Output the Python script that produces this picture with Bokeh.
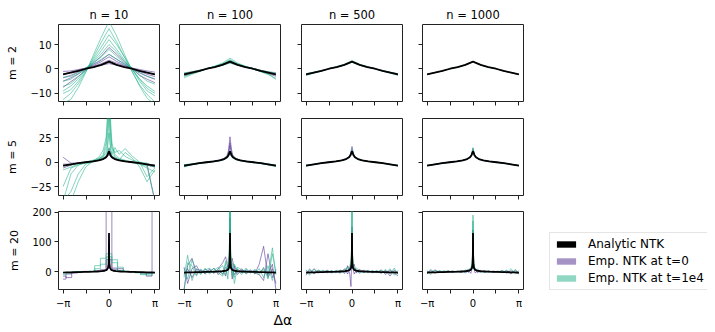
import numpy as np
from bokeh.plotting import figure
from bokeh.layouts import row, column
from bokeh.models import Range1d, FixedTicker, Legend, LegendItem, Title, CustomLabelingPolicy
from bokeh.embed import file_html
from bokeh.resources import INLINE

# ---------------- data ----------------
N_VALUES = [10, 100, 500, 1000]
M_VALUES = [2, 5, 20]
X_TICK_LABELS = ["−π", "", "0", "", "π"]
Y_TICKS_M2 = [-10, 0, 10]
Y_TICK_LABELS_M2 = ["−10", "0", "10"]
Y_TICKS_M5 = [-25, 0, 25]
Y_TICK_LABELS_M5 = ["−25", "0", "25"]
Y_TICKS_M20 = [0, 100, 200]
Y_TICK_LABELS_M20 = ["0", "100", "200"]
LEGEND_LABELS = ["Analytic NTK", "Emp. NTK at t=0", "Emp. NTK at t=1e4"]
X_LABEL = "Δα"

# angle grids (radians)
X_M2 = [-3.1416, -2.618, -2.094, -1.571, -1.047, -0.524, 0.0, 0.524, 1.047, 1.571, 2.094, 2.618, 3.1416]
X_M5 = [-3.1416, -2.6, -2.1, -1.6, -1.1, -0.7, -0.4, -0.2, -0.1, 0.0, 0.1, 0.2, 0.4, 0.7, 1.1, 1.6, 2.1, 2.6, 3.1416]
X_M20 = [-3.1416, -2.9, -2.6, -2.3, -2.0, -1.7, -1.4, -1.1, -0.8, -0.5, -0.3, -0.15, -0.07, -0.03, -0.01, 0.0,
         0.01, 0.03, 0.07, 0.15, 0.3, 0.5, 0.8, 1.1, 1.4, 1.7, 2.0, 2.3, 2.6, 2.9, 3.1416]
X_M20_STEP = [-3.1416, -2.749, -2.356, -1.963, -1.571, -1.178, -0.785, -0.393, 0.0, 0.393, 0.785, 1.178,
              1.571, 1.963, 2.356, 2.749, 3.1416]

# analytic NTK
ANALYTIC_M2 = [-2.2, -1.5, -0.8, 0.1, 0.8, 1.7, 3.0, 1.7, 0.8, 0.1, -0.8, -1.5, -2.2]
ANALYTIC_M5 = [-3.5, -2.2, -1.0, -0.1, 0.8, 1.8, 3.2, 5.0, 7.2, 11.0, 7.2, 5.0, 3.2, 1.8, 0.8, -0.1, -1.0, -2.2, -3.5]
ANALYTIC_M20 = [-3, -2.6, -2.2, -1.8, -1.4, -1, -0.6, -0.2, 0.4, 1.5, 3, 6, 12, 25, 55, 130,
                55, 25, 12, 6, 3, 1.5, 0.4, -0.2, -0.6, -1, -1.4, -1.8, -2.2, -2.6, -3]

# ---- m = 2 ----
EMP0_M2_N10 = [
    [-2.0, -1.4, -0.5, 0.3, 1.2, 2.2, 3.6, 2.4, 1.3, 0.3, -0.7, -1.5, -2.3],
    [-5.0, -3.6, -2.0, 0.0, 2.0, 3.6, 6.0, 4.0, 2.1, 0.0, -1.6, -3.0, -4.2],
    [-7.5, -5.2, -3.0, -0.4, 2.6, 5.2, 8.8, 6.0, 3.0, 0.1, -2.6, -4.2, -5.6],
    [-1.0, -0.8, -0.2, 0.4, 1.0, 1.6, 2.2, 1.6, 1.0, 0.4, -0.2, -0.8, -1.3],
    [-3.6, -2.6, -1.2, 0.2, 1.5, 3.0, 5.0, 3.1, 1.6, 0.2, -1.0, -2.2, -3.1],
]
EMP1_M2_N10 = [
    [-14.0, -12.5, -7.5, -1.2, 6.0, 13.0, 19.5, 13.5, 6.2, -0.8, -7.0, -12.0, -14.5],
    [-10.0, -8.5, -5.0, -0.5, 4.2, 9.0, 14.0, 10.0, 5.0, 0.2, -5.0, -9.0, -11.0],
    [-7.0, -6.0, -3.2, 0.0, 3.0, 6.2, 10.0, 7.0, 3.2, 0.0, -4.0, -7.0, -9.2],
    [-5.0, -4.2, -2.0, 0.5, 2.6, 5.0, 8.0, 5.2, 2.5, 0.3, -2.5, -5.0, -6.2],
    [-3.4, -3.0, -1.5, 0.5, 2.0, 4.0, 6.0, 4.0, 2.0, 0.5, -1.5, -3.0, -4.0],
    [-12.5, -10.0, -6.0, -1.0, 5.0, 11.0, 16.5, 11.0, 5.0, -1.0, -6.5, -10.5, -13.5],
    [-9.0, -7.0, -4.0, 0.0, 3.5, 7.5, 12.0, 8.0, 3.8, -0.2, -4.2, -8.0, -10.0],
]
EMP0_M2_N100 = [
    [-2.8, -1.8, -0.9, 0.1, 0.9, 1.8, 2.8, 1.8, 0.9, 0.1, -0.9, -1.9, -3.0],
    [-1.8, -1.2, -0.6, 0.2, 0.8, 1.6, 2.6, 1.6, 0.8, 0.2, -0.6, -1.2, -1.7],
    [-2.4, -1.6, -0.8, 0.1, 0.9, 1.8, 3.3, 1.8, 0.9, 0.0, -0.8, -1.6, -2.5],
]
EMP1_M2_N100 = [
    [-3.6, -2.2, -1.1, 0.1, 1.2, 2.4, 4.4, 2.4, 1.2, 0.1, -1.1, -2.3, -3.8],
    [-1.6, -1.1, -0.5, 0.2, 0.8, 1.5, 2.4, 1.5, 0.8, 0.2, -0.5, -1.1, -1.5],
    [-3.0, -1.9, -0.9, 0.1, 1.0, 2.1, 3.8, 2.1, 1.0, 0.0, -1.0, -2.0, -4.3],
    [-2.6, -1.7, -0.8, 0.1, 0.9, 1.9, 3.4, 2.0, 0.9, 0.1, -0.9, -1.7, -2.4],
]
EMP0_M2_N500 = [
    [-2.4, -1.6, -0.8, 0.1, 0.9, 1.8, 3.1, 1.8, 0.9, 0.1, -0.8, -1.6, -2.4],
    [-2.0, -1.4, -0.7, 0.1, 0.8, 1.6, 2.9, 1.6, 0.8, 0.1, -0.7, -1.4, -2.0],
]
EMP1_M2_N500 = [
    [-2.7, -1.7, -0.9, 0.1, 1.0, 1.9, 3.4, 1.9, 1.0, 0.1, -0.9, -1.7, -2.6],
    [-1.9, -1.3, -0.7, 0.1, 0.8, 1.6, 2.7, 1.6, 0.8, 0.1, -0.7, -1.3, -1.9],
]
EMP0_M2_N1000 = [
    [-2.3, -1.5, -0.8, 0.1, 0.8, 1.7, 3.05, 1.7, 0.8, 0.1, -0.8, -1.5, -2.3],
]
EMP1_M2_N1000 = [
    [-2.1, -1.5, -0.8, 0.1, 0.8, 1.7, 2.95, 1.7, 0.8, 0.1, -0.8, -1.5, -2.1],
]

# ---- m = 5 ----
EMP0_M5_N10 = [
    [-2, -2, -1, 0, 1, 2, 3, 5, 7, 10, 7, 5, 3, 2, 1, 0, -1, -2, -40],
    [5, -1, -1, 0, 1, 2, 4, 6, 9, 14, 9, 6, 4, 2, 1, 0, -1, -3, -5],
    [-6, -3, -1, 0, 1, 2, 3, 4, 6, 8, 6, 4, 3, 2, 1, 0, -1, -2, -3],
]
EMP1_M5_N10 = [
    [-40, -30, -12, -2, 0, 2, 6, 15, 30, 60, 28, 14, 6, 3, 1, 0, -2, -6, -10],
    [-40, -40, -20, -5, 1, 3, 8, 20, 40, 80, 35, 15, 10, 12, 6, 2, 0, -1, -5],
    [-8, -5, -2, 0, 2, 4, 6, 10, 18, 30, 16, 8, 15, 8, 14, 6, 0, -15, -6],
    [-25, -6, -3, -1, 1, 3, 5, 8, 12, 50, 12, 8, 5, 2, 10, 4, -5, -20, -8],
    [-4, -3, -1, 0, 1, 2, 4, 6, 9, 15, 9, 6, 4, 2, 1, 0, -1, -3, -5],
    [-40, -12, -3, 0, 1, 5, 12, 25, 50, 70, 45, 20, 8, 4, 2, 0, -2, -4, -40],
]
EMP0_M5_N100 = [
    [-4.5, -2.5, -1.2, 0, 1, 2.2, 4, 7, 12, 26, 13, 7, 4, 2, 1, 0, -1.2, -2.5, -4],
    [-3, -2, -0.8, -0.2, 0.6, 1.6, 3, 5.5, 9, 17, 9, 5.5, 3.2, 1.6, 0.6, -0.2, -0.8, -2, -3.2],
    [-4, -2.4, -1, 0.2, 1, 2, 3.5, 6, 10, 20, 10, 6, 3.5, 2, 1, 0, -1, -2.4, -3.8],
]
EMP1_M5_N100 = [
    [-5, -2.6, -1.5, -0.5, 0.5, 1.5, 2.5, 4, 6, 9, 6, 4, 2.5, 1.5, 0.4, -0.5, -1.4, -2.8, -4.5],
    [-2.5, -1.8, -0.6, 0.2, 1, 2, 3.5, 5.5, 8, 12, 8, 5.5, 3.5, 2, 1, 0.2, -0.6, -1.8, -2.8],
    [-4, -2, -1.2, -0.3, 0.6, 1.7, 3, 4.8, 7, 10.5, 7, 4.8, 3, 1.7, 0.7, -0.3, -1.2, -2.2, -4.2],
]
EMP0_M5_N500 = [
    [-3.8, -2.3, -1.1, -0.1, 0.8, 1.9, 3.5, 5.8, 9, 16, 9, 5.8, 3.5, 1.9, 0.8, -0.1, -1.1, -2.3, -3.7],
    [-3.2, -2.1, -0.9, 0, 0.9, 1.8, 3.2, 5.2, 7.8, 12.5, 7.8, 5.2, 3.2, 1.8, 0.9, 0, -0.9, -2.1, -3.3],
]
EMP1_M5_N500 = [
    [-4.2, -2.4, -1.2, -0.2, 0.7, 1.7, 3, 4.8, 7, 10.5, 7, 4.8, 3, 1.7, 0.7, -0.2, -1.2, -2.4, -4.0],
    [-3.0, -2.0, -0.8, 0.1, 0.9, 1.9, 3.4, 5.4, 8.2, 13.5, 8.2, 5.4, 3.4, 1.9, 0.9, 0.1, -0.8, -2.0, -3.2],
]
EMP0_M5_N1000 = [
    [-3.6, -2.2, -1.0, -0.1, 0.8, 1.8, 3.3, 5.3, 8, 14, 8, 5.3, 3.3, 1.8, 0.8, -0.1, -1.0, -2.2, -3.6],
    [-3.3, -2.1, -0.9, 0, 0.9, 1.8, 3.2, 5.1, 7.6, 12, 7.6, 5.1, 3.2, 1.8, 0.9, 0, -0.9, -2.1, -3.4],
]
EMP1_M5_N1000 = [
    [-3.9, -2.3, -1.1, -0.1, 0.8, 1.8, 3.2, 5, 7.5, 12.5, 7.5, 5, 3.2, 1.8, 0.8, -0.1, -1.1, -2.3, -3.8],
    [-3.1, -2.1, -0.9, -0.1, 0.8, 1.8, 3.3, 5.3, 8.1, 15, 8.1, 5.3, 3.3, 1.8, 0.8, -0.1, -0.9, -2.1, -3.2],
]

# ---- m = 20 ----
EMP0_M20_N10 = [  # on X_M20_STEP, drawn as steps
    [-25, -8, -5, 0, 0, 0, 3, 5, 250, 8, 10, 0, -2, -3, -5, -6, 250],
    [-15, -20, -2, 0, 1, 0, 2, 6, 40, 12, 3, 1, 0, -1, -4, -15, -3],
]
EMP1_M20_N10 = [
    [-10, -5, -2, 0, 0, 1, 20, 45, 60, 40, 4, 2, 0, -4, -10, -8, -2],
    [-3, -2, -1, 0, 0, 2, 10, 25, 50, 30, 15, 1, 0, -2, -8, -12, -5],
]
EMP0_M20_N100 = [
    [-60, 20, 45, -10, 6, -4, 8, -6, 10, 30, 50, 15, 25, 60, 100, 180, 100, 50, 20, 45, 10, -10, 5, -3, 6, -8, 25, 85, -20, 10, -40],
    [15, -40, 10, 20, -5, 8, -3, 12, -10, 5, -15, 20, 30, 50, 90, 140, 80, 40, 15, -25, 20, -5, 10, -6, 3, -5, -10, -30, 60, -20, 5],
    [-10, 10, -20, 8, 4, -8, 6, -4, 4, -8, 15, 8, 15, 35, 70, 120, 60, 30, 10, 12, -10, 8, -3, 5, -2, 4, -3, 10, -10, 25, -60],
]
EMP1_M20_N100 = [
    [-20, 55, -30, 10, -8, 5, 12, -5, 8, 20, -10, 15, 40, 90, 150, 260, 140, 80, 35, -15, 25, 5, -10, 8, -5, 3, -10, 15, -25, 60, -5],
    [-60, 30, 20, -15, 8, -6, 3, 10, -4, -15, 25, 30, 60, 110, 180, 230, 170, 100, 50, 10, -20, 15, 6, -8, 4, -6, 10, -20, 20, -30, 10],
    [10, -25, 40, 5, -10, 12, -8, 5, 15, -10, 35, -25, 20, 70, 120, 200, 110, 60, 15, 30, -40, 10, -5, 12, -3, 8, -4, 6, -15, 80, -10],
]
EMP0_M20_N500 = [
    [-12, 6, -8, 4, -3, 5, -4, 2, -5, 10, -8, 15, 20, 40, 80, 150, 70, 30, 15, 25, -5, 8, -2, 3, -4, 2, -5, 4, -15, 6, -8],
    [4, -6, 10, -5, 2, -4, 3, -3, 4, -6, 20, -10, -50, 30, 70, 130, 60, 35, 10, -8, 6, -4, 5, -2, 3, -3, 6, -10, 5, -6, -14],
]
EMP1_M20_N500 = [
    [-8, 10, -5, 6, -4, 3, -2, 4, -3, 8, 12, 20, 35, 80, 150, 230, 150, 70, 30, 15, 5, -6, 3, -4, 2, -3, 5, -6, 10, -12, 4],
    [5, -12, 8, -3, 5, -2, 3, -4, 6, -5, 15, 10, 25, 60, 120, 210, 110, 55, 20, 8, 12, 4, -3, 5, -2, 4, -6, 8, -8, 12, -10],
]
EMP0_M20_N1000 = [
    [-8, 4, -5, 2, -2, 3, -2, 1, -3, 5, -3, 8, 14, 30, 70, 140, 65, 28, 12, 8, -4, 4, -1, 2, -2, 1, -3, 3, -8, 5, -5],
    [2, -4, 6, -3, 1, -2, 2, -1, 2, -4, 4, -6, 10, 28, 60, 125, 55, 25, 8, -4, 3, -2, 3, -1, 2, -2, 4, -5, 3, -4, -7],
]
EMP1_M20_N1000 = [
    [-6, 8, -4, 3, -2, 2, -1, 2, -2, 4, 8, 12, 25, 60, 120, 190, 115, 55, 22, 10, 4, -3, 2, -2, 1, -2, 3, -4, 10, -8, 3],
    [3, -10, 5, -2, 3, -1, 2, -2, 3, -3, 6, 8, 18, 45, 95, 170, 90, 45, 18, 6, 8, 2, -2, 3, -1, 2, -3, 5, -6, 7, -9],
]

# ---------------- tables built from the arrays ----------------
X_GRID = {2: X_M2, 5: X_M5, 20: X_M20}
ANALYTIC = {2: ANALYTIC_M2, 5: ANALYTIC_M5, 20: ANALYTIC_M20}
Y_TICKS = {2: (Y_TICKS_M2, Y_TICK_LABELS_M2), 5: (Y_TICKS_M5, Y_TICK_LABELS_M5),
           20: (Y_TICKS_M20, Y_TICK_LABELS_M20)}
EMP0 = {(2, 10): EMP0_M2_N10, (2, 100): EMP0_M2_N100, (2, 500): EMP0_M2_N500, (2, 1000): EMP0_M2_N1000,
        (5, 10): EMP0_M5_N10, (5, 100): EMP0_M5_N100, (5, 500): EMP0_M5_N500, (5, 1000): EMP0_M5_N1000,
        (20, 10): EMP0_M20_N10, (20, 100): EMP0_M20_N100, (20, 500): EMP0_M20_N500, (20, 1000): EMP0_M20_N1000}
EMP1 = {(2, 10): EMP1_M2_N10, (2, 100): EMP1_M2_N100, (2, 500): EMP1_M2_N500, (2, 1000): EMP1_M2_N1000,
        (5, 10): EMP1_M5_N10, (5, 100): EMP1_M5_N100, (5, 500): EMP1_M5_N500, (5, 1000): EMP1_M5_N1000,
        (20, 10): EMP1_M20_N10, (20, 100): EMP1_M20_N100, (20, 500): EMP1_M20_N500, (20, 1000): EMP1_M20_N1000}

# ---------------- style / layout ----------------
FONT = "DejaVu Sans"
PURPLE = "#5b3a97"
GREEN = "#1fb087"
Y_RANGES = {2: (-13.3, 18.2), 5: (-34.2, 44.8), 20: (-60, 202)}
X_PAD = 0.314
COL_LEFT = [58, 10, 7, 10]
COL_RIGHT = [10, 14, 10, 10]
ROW_TOP = [24, 9, 8]
ROW_BOTTOM = [8, 8, 42]
FRAME_W = 101
FRAME_H = [77, 77, 78]

x_tick_pos = list(np.pi * np.array([-1, -0.5, 0, 0.5, 1]))
x_lo, x_hi = -np.pi - X_PAD, np.pi + X_PAD

# label policies: hide every label / keep labels that have text
NO_LABELS = "return []"
EVEN_LABELS = "const r = []; for (const i of indices) { if (i % 2 == 0) r.push(i) } return r"


def make_panel(ri, ci, m, n):
    w = COL_LEFT[ci] + FRAME_W + COL_RIGHT[ci]
    h = ROW_TOP[ri] + FRAME_H[ri] + ROW_BOTTOM[ri]
    p = figure(width=w, height=h, output_backend="svg", toolbar_location=None,
               x_range=Range1d(x_lo, x_hi),
               y_range=Range1d(*Y_RANGES[m]),
               min_border_left=COL_LEFT[ci], min_border_right=COL_RIGHT[ci],
               min_border_top=ROW_TOP[ri], min_border_bottom=ROW_BOTTOM[ri])
    p.grid.visible = False
    p.outline_line_color = "#222222"
    p.outline_line_width = 1
    p.background_fill_color = "white"
    p.border_fill_color = "white"

    for ax in (p.xaxis[0], p.yaxis[0]):
        ax.axis_line_color = None
        ax.major_tick_in = 0
        ax.major_tick_out = 4
        ax.major_tick_line_color = "#222222"
        ax.minor_tick_in = 0
        ax.minor_tick_out = 0
        ax.major_label_text_font = FONT
        ax.major_label_text_color = "black"
        ax.major_label_text_font_size = "10px"
        ax.major_label_standoff = 3

    p.xaxis.ticker = FixedTicker(ticks=x_tick_pos, minor_ticks=[])
    if ri == len(M_VALUES) - 1:
        p.xaxis.major_label_overrides = {t: lab for t, lab in zip(x_tick_pos, X_TICK_LABELS)}
        p.xaxis.major_label_policy = CustomLabelingPolicy(code=EVEN_LABELS)
        p.xaxis.major_label_standoff = 4
    else:
        p.xaxis.major_label_text_font_size = "0px"
        p.xaxis.major_label_standoff = 0
        p.xaxis.major_label_policy = CustomLabelingPolicy(code=NO_LABELS)

    yt, yl = Y_TICKS[m]
    p.yaxis.ticker = FixedTicker(ticks=yt, minor_ticks=[])
    if ci == 0:
        p.yaxis.major_label_overrides = {t: lab for t, lab in zip(yt, yl)}
        p.yaxis.axis_label = f"m = {m}"
        p.yaxis.axis_label_text_font = FONT
        p.yaxis.axis_label_text_font_size = "11px"
        p.yaxis.axis_label_text_font_style = "normal"
        p.yaxis.axis_label_text_color = "black"
        p.yaxis.axis_label_standoff = 8
    else:
        p.yaxis.major_label_text_font_size = "0px"
        p.yaxis.major_label_standoff = 0
        p.yaxis.major_label_policy = CustomLabelingPolicy(code=NO_LABELS)

    if ri == 0:
        p.title.text = f"n = {n}"
        p.title.align = "center"
        p.title.text_font = FONT
        p.title.text_font_size = "11.5px"
        p.title.text_font_style = "normal"
        p.title.text_color = "black"
        p.title.standoff = 5

    key = (m, n)
    if m == 20 and n == 10:
        for ys in EMP0[key]:
            p.step(X_M20_STEP, ys, mode="center", line_color=PURPLE, line_alpha=0.6, line_width=1)
        for ys in EMP1[key]:
            p.step(X_M20_STEP, ys, mode="center", line_color=GREEN, line_alpha=0.55, line_width=1)
    else:
        xg = X_GRID[m]
        e0 = EMP0[key]
        e1 = EMP1[key]
        p.multi_line(xs=[xg] * len(e0), ys=e0, line_color=PURPLE, line_alpha=0.6, line_width=1)
        p.multi_line(xs=[xg] * len(e1), ys=e1, line_color=GREEN, line_alpha=0.55, line_width=1)
    p.line(X_GRID[m], ANALYTIC[m], line_color="black", line_width=1.8)

    # shared x label, set below the second bottom panel and shifted toward the grid centre
    if ri == len(M_VALUES) - 1 and ci == 1:
        p.add_layout(Title(text=X_LABEL, align="left", offset=94, standoff=0,
                           vertical_align="top", text_line_height=0.8,
                           text_font=FONT, text_font_size="14px", text_font_style="normal",
                           text_color="black"), "below")
    return p


rows = []
for ri, m in enumerate(M_VALUES):
    rows.append(row([make_panel(ri, ci, m, n) for ci, n in enumerate(N_VALUES)]))

grid_h = sum(ROW_TOP) + sum(ROW_BOTTOM) + sum(FRAME_H)

# legend panel (dummy renderers sit outside the visible range)
lf = figure(width=174, height=grid_h, output_backend="svg", toolbar_location=None,
            x_range=Range1d(0, 1), y_range=Range1d(0, 1), min_border=0)
lf.axis.visible = False
lf.grid.visible = False
lf.outline_line_color = None
r_a = lf.rect(x=[5], y=[5], width=0.1, height=0.1, fill_color="black", line_color=None)
r_0 = lf.rect(x=[5], y=[5], width=0.1, height=0.1, fill_color=PURPLE, fill_alpha=0.55, line_color=None)
r_1 = lf.rect(x=[5], y=[5], width=0.1, height=0.1, fill_color=GREEN, fill_alpha=0.5, line_color=None)
legend = Legend(items=[LegendItem(label=LEGEND_LABELS[0], renderers=[r_a]),
                       LegendItem(label=LEGEND_LABELS[1], renderers=[r_0]),
                       LegendItem(label=LEGEND_LABELS[2], renderers=[r_1])],
                location=(16, grid_h - 290), glyph_width=24, glyph_height=8, label_height=14,
                spacing=3, padding=4, margin=0, label_standoff=10,
                label_text_font=FONT, label_text_font_size="12px", label_text_color="black",
                border_line_color="#cccccc", border_line_width=1,
                background_fill_color="white", background_fill_alpha=0.8)
lf.add_layout(legend)

layout = row(column(rows), lf)

open("out.html", "w").write(file_html(layout, INLINE))
